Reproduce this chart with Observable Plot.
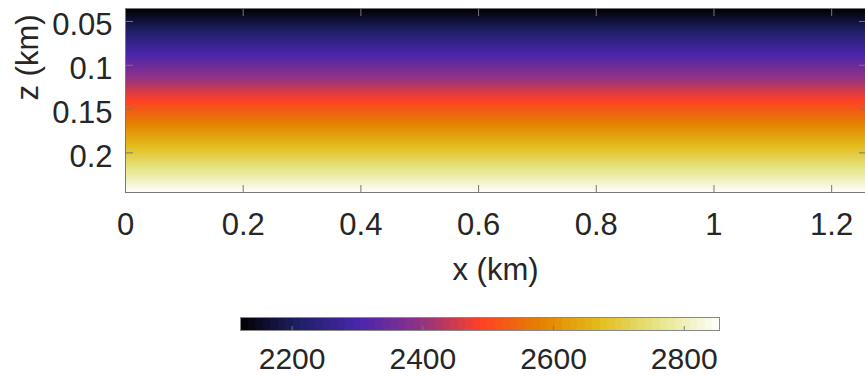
<!DOCTYPE html>
<html><head><meta charset="utf-8">
<script src="https://cdn.jsdelivr.net/npm/d3@7"></script>
<script src="https://cdn.jsdelivr.net/npm/@observablehq/plot@0.6"></script>
<style>
html,body{margin:0;padding:0;background:#fff;}
#chart svg{display:block;}
</style></head><body><div id="chart"></div>
<script>
// ---- data ----
const xTicks = [0, 0.2, 0.4, 0.6, 0.8, 1, 1.2];
const zTicks = [0.05, 0.1, 0.15, 0.2];
const cbTicks = [2200, 2400, 2600, 2800];
const xExtent = [0, 1.2575];
const zExtent = [0.0352, 0.2452];
const vExtent = [2121, 2854];
const zSamples = [0.0352, 0.055, 0.075, 0.095, 0.115, 0.135, 0.155, 0.175, 0.195, 0.215, 0.235, 0.2452];
const velocity = [2121, 2190, 2260, 2330, 2400, 2470, 2540, 2610, 2680, 2750, 2818, 2854];
const cmrColors = ["#000000", "#20206a", "#4a26ac", "#8f3386", "#ff4026", "#e48000", "#e3bd1c", "#e6e68a", "#ffffff"];

// table for the raster (velocity constant along x)
const rows = zSamples.flatMap((z, i) => xExtent.map(x => ({x, z, v: velocity[i]})));

const font = "'Liberation Sans', Arial, Helvetica, sans-serif";
const ink = "#262626", boxColor = "#777777";
const color = {type: "linear", domain: vExtent, interpolate: d3.piecewise(d3.interpolateRgb, cmrColors)};

const main = Plot.plot({
  width: 865, height: 290,
  marginLeft: 125, marginRight: 0, marginTop: 8, marginBottom: 98,
  style: {fontFamily: font, background: "white", color: ink},
  x: {domain: xExtent},
  y: {domain: zExtent, reverse: true},
  color,
  marks: [
    Plot.raster(rows, {x: "x", y: "z", fill: "v", interpolate: "barycentric",
      x1: xExtent[0], x2: xExtent[1], y1: zExtent[0], y2: zExtent[1]}),
    Plot.frame({stroke: boxColor}),
    Plot.axisX(xTicks, {anchor: "bottom", tickSize: 7, dy: -7, fill: "none", stroke: boxColor, label: null}),
    Plot.axisX(xTicks, {anchor: "top", tickSize: 7, dy: 7, fill: "none", stroke: boxColor, label: null}),
    Plot.axisY(zTicks, {anchor: "left", tickSize: 8, dx: 8, fill: "none", stroke: boxColor, label: null}),
    Plot.axisY(zTicks, {anchor: "right", tickSize: 7, dx: -7, fill: "none", stroke: boxColor, label: null}),
    Plot.axisX(xTicks, {anchor: "bottom", tickSize: 0, tickPadding: 20, fontSize: 31, fill: ink, tickFormat: d => String(d), label: null}),
    Plot.axisY(zTicks, {anchor: "left", tickSize: 0, tickPadding: 13, dy: 4, fontSize: 31, fill: ink, tickFormat: d => String(d), label: null}),
    Plot.text(["x (km)"], {frameAnchor: "bottom", dy: 87, lineAnchor: "bottom", fontSize: 31, fill: ink}),
    Plot.text(["z (km)"], {frameAnchor: "left", dx: -88, rotate: -90, lineAnchor: "bottom", fontSize: 31, fill: ink})
  ]
});

const bar = Plot.plot({
  width: 865, height: 86,
  marginLeft: 240, marginRight: 146, marginTop: 27, marginBottom: 46,
  style: {fontFamily: font, background: "white", color: ink},
  x: {domain: vExtent},
  y: {domain: [0, 1], axis: null},
  color,
  marks: [
    Plot.raster({fill: (v, t) => v, x1: vExtent[0], x2: vExtent[1], y1: 0, y2: 1, width: 64, height: 1, imageRendering: "pixelated"}),
    Plot.frame({stroke: "#888888"}),
    Plot.axisX(cbTicks, {anchor: "bottom", tickSize: 4, dy: -4, fill: "none", stroke: boxColor, label: null}),
    Plot.axisX(cbTicks, {anchor: "bottom", tickSize: 0, tickPadding: 17, fontSize: 30, fill: ink, tickFormat: d => String(d), label: null})
  ]
});

const host = document.getElementById("chart");
host.append(main, bar);
</script></body></html>
